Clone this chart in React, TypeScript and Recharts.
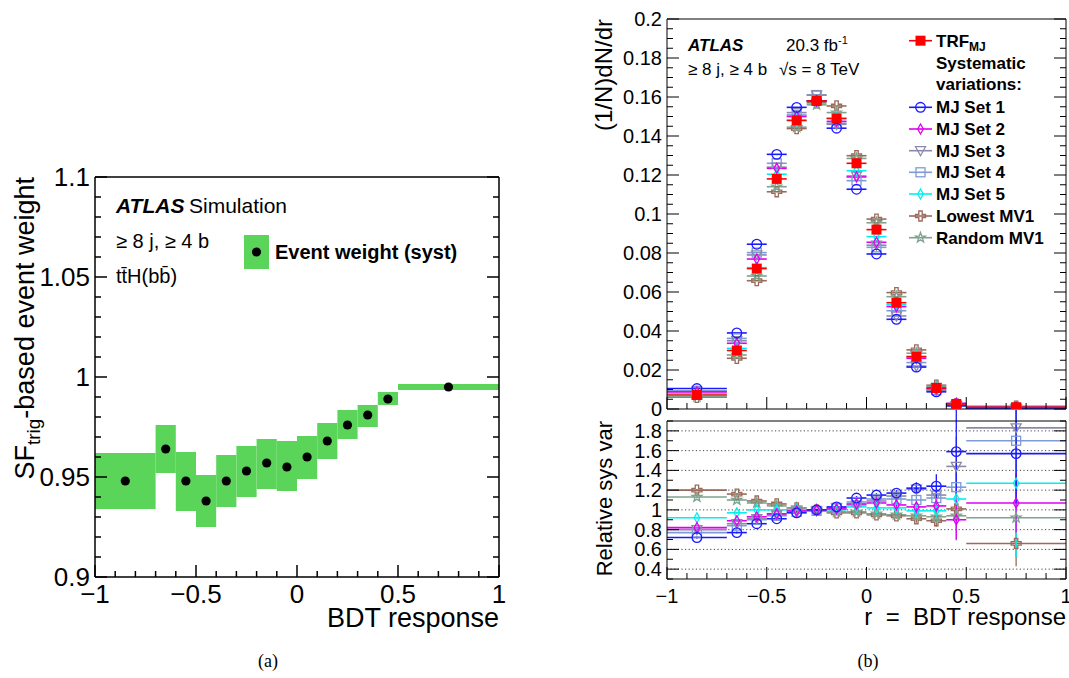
import React from "react";
import { ComposedChart, Scatter, XAxis, YAxis, ErrorBar, ReferenceArea, ReferenceLine } from "recharts";

const FONT = "'Liberation Sans', Arial, Helvetica, sans-serif";

// BDT response binning
const binMid = [-0.85, -0.65, -0.55, -0.45, -0.35, -0.25, -0.15, -0.05, 0.05, 0.15, 0.25, 0.35, 0.45, 0.75];
const binHalf = [0.15, 0.05, 0.05, 0.05, 0.05, 0.05, 0.05, 0.05, 0.05, 0.05, 0.05, 0.05, 0.05, 0.25];
const binLow = [-1, -0.7, -0.6, -0.5, -0.4, -0.3, -0.2, -0.1, 0, 0.1, 0.2, 0.3, 0.4, 0.5];
const binHigh = [-0.7, -0.6, -0.5, -0.4, -0.3, -0.2, -0.1, 0, 0.1, 0.2, 0.3, 0.4, 0.5, 1];

// (a) SF_trig based event weight with syst band
const weight = [0.948, 0.964, 0.948, 0.938, 0.948, 0.953, 0.957, 0.955, 0.96, 0.968, 0.976, 0.981, 0.989, 0.995];
const weightLow = [0.934, 0.952, 0.933, 0.925, 0.935, 0.94, 0.944, 0.943, 0.949, 0.959, 0.969, 0.975, 0.986, 0.9935];
const weightHigh = [0.962, 0.976, 0.9625, 0.951, 0.961, 0.9655, 0.969, 0.968, 0.9705, 0.977, 0.9835, 0.986, 0.9925, 0.9965];

// (b) normalised distributions
const trfDist = [0.0072, 0.03, 0.072, 0.118, 0.148, 0.158, 0.149, 0.126, 0.092, 0.0545, 0.0268, 0.0108, 0.0026, 0.0009];
const set1Dist = [0.0105, 0.039, 0.0845, 0.1306, 0.1547, 0.158, 0.144, 0.1127, 0.0795, 0.046, 0.0215, 0.0088, 0.0016, 0.0006];
const set2Dist = [0.0088, 0.0337, 0.0769, 0.1234, 0.15, 0.158, 0.1475, 0.119, 0.0855, 0.0525, 0.026, 0.0104, 0.0029, 0.00084];
const set3Dist = [0.009, 0.035, 0.079, 0.124, 0.152, 0.161, 0.146, 0.1195, 0.084, 0.0477, 0.022, 0.0094, 0.0018, 0.0005];
const set4Dist = [0.0093, 0.0362, 0.0802, 0.126, 0.1508, 0.161, 0.1465, 0.1171, 0.0829, 0.0504, 0.0238, 0.0097, 0.0021, 0.00053];
const set5Dist = [0.0078, 0.0311, 0.0725, 0.1204, 0.148, 0.158, 0.149, 0.1222, 0.0884, 0.0535, 0.027, 0.0109, 0.0023, 0.0007];
const lowestDist = [0.006, 0.026, 0.0658, 0.1114, 0.1438, 0.157, 0.1554, 0.1299, 0.0974, 0.0597, 0.0303, 0.0122, 0.0026, 0.0014];
const randomDist = [0.0063, 0.0277, 0.0682, 0.114, 0.1445, 0.156, 0.152, 0.1285, 0.0955, 0.0576, 0.0286, 0.0117, 0.0028, 0.001];

// relative sys var (ratio panel)
const set1Ratio = [0.72, 0.77, 0.86, 0.91, 0.97, 1.0, 1.03, 1.12, 1.15, 1.17, 1.22, 1.24, 1.59, 1.57];
const set2Ratio = [0.82, 0.89, 0.93, 0.96, 0.99, 1.0, 1.01, 1.06, 1.07, 1.05, 1.03, 1.04, 0.9, 1.07];
const set3Ratio = [0.8, 0.86, 0.91, 0.95, 0.98, 0.99, 1.02, 1.05, 1.09, 1.14, 1.21, 1.15, 1.44, 1.83];
const set4Ratio = [0.77, 0.84, 0.9, 0.94, 0.98, 0.99, 1.02, 1.08, 1.11, 1.11, 1.1, 1.12, 1.23, 1.7];
const set5Ratio = [0.92, 0.97, 1.0, 1.0, 1.0, 1.0, 1.0, 1.03, 1.02, 1.02, 0.99, 0.99, 1.11, 1.27];
const lowestRatio = [1.2, 1.16, 1.09, 1.06, 1.02, 1.0, 0.97, 0.97, 0.95, 0.94, 0.91, 0.89, 1.01, 0.66];
const randomRatio = [1.13, 1.1, 1.07, 1.04, 1.02, 1.0, 0.98, 0.98, 0.96, 0.95, 0.94, 0.93, 0.94, 0.92];

const set1Err = [0.01, 0.01, 0.01, 0.01, 0.01, 0.01, 0.01, 0.02, 0.02, 0.03, 0.06, 0.12, 0.45, 0.5];
const set2Err = [0.01, 0.01, 0.01, 0.01, 0.01, 0.01, 0.01, 0.02, 0.02, 0.03, 0.04, 0.08, 0.2, 0.3];
const set3Err = [0.01, 0.01, 0.01, 0.01, 0.01, 0.01, 0.01, 0.02, 0.02, 0.03, 0.04, 0.08, 0.3, 0.5];
const set4Err = [0.01, 0.01, 0.01, 0.01, 0.01, 0.01, 0.01, 0.02, 0.02, 0.03, 0.04, 0.08, 0.25, 0.5];
const set5Err = [0.01, 0.01, 0.01, 0.01, 0.01, 0.01, 0.01, 0.02, 0.02, 0.03, 0.04, 0.08, 0.3, 0.75];
const lowestErr = [0.01, 0.01, 0.01, 0.01, 0.01, 0.01, 0.01, 0.02, 0.02, 0.03, 0.04, 0.06, 0.1, 0.23];
const randomErr = [0.01, 0.01, 0.01, 0.01, 0.01, 0.01, 0.01, 0.02, 0.02, 0.03, 0.04, 0.06, 0.25, 0.4];

// axis ticks / labels
const xMajor = [-1, -0.5, 0, 0.5, 1];
const xLabels = ["\u22121", "\u22120.5", "0", "0.5", "1"];
const weightMajor = [0.9, 0.95, 1, 1.05, 1.1];
const weightLabels = ["0.9", "0.95", "1", "1.05", "1.1"];
const distMajor = [0, 0.02, 0.04, 0.06, 0.08, 0.1, 0.12, 0.14, 0.16, 0.18, 0.2];
const distLabels = ["0", "0.02", "0.04", "0.06", "0.08", "0.1", "0.12", "0.14", "0.16", "0.18", "0.2"];
const ratioMajor = [0.4, 0.6, 0.8, 1, 1.2, 1.4, 1.6, 1.8];
const ratioLabels = ["0.4", "0.6", "0.8", "1", "1.2", "1.4", "1.6", "1.8"];

function steps(from: number, to: number, step: number) {
  const out: number[] = [];
  for (let v = from; v <= to + 1e-9; v += step) out.push(Number(v.toFixed(4)));
  return out;
}
const xTicks = steps(-1, 1, 0.1);
const weightTicks = steps(0.9, 1.1, 0.01);
const distTicks = steps(0, 0.2, 0.005);
const ratioTicks = steps(0.3, 1.9, 0.1);

type Side = "left" | "right" | "top" | "bottom";

function tickMaker(side: Side, majors: number[], labels: string[] | null, fontSize = 20, gap = 5, sw = 1) {
  return function Tick(props: any) {
    const { x, y, payload } = props;
    const v = Number(payload.value);
    const i = majors.findIndex((m) => Math.abs(m - v) < 1e-6);
    const len = i >= 0 ? 12 : 6;
    const label = i >= 0 && labels ? labels[i] : null;
    const ln = { stroke: "#000", strokeWidth: sw };
    if (side === "bottom") {
      return (
        <g>
          <line x1={x} y1={y} x2={x} y2={y - len} {...ln} />
          {label && (
            <text x={x} y={y + gap} textAnchor="middle" fontSize={fontSize} fontFamily={FONT} fill="#000">
              {label}
            </text>
          )}
        </g>
      );
    }
    if (side === "top") return <line x1={x} y1={y} x2={x} y2={y + len} {...ln} />;
    if (side === "left") {
      return (
        <g>
          <line x1={x} y1={y} x2={x + len} y2={y} {...ln} />
          {label && (
            <text x={x - gap} y={y} textAnchor="end" dominantBaseline="central" fontSize={fontSize} fontFamily={FONT} fill="#000">
              {label}
            </text>
          )}
        </g>
      );
    }
    return <line x1={x} y1={y} x2={x - len} y2={y} {...ln} />;
  };
}

function Marker({ kind, cx, cy, color }: { kind: string; cx: number; cy: number; color: string }) {
  const s = { fill: "none", stroke: color, strokeWidth: 1.3 };
  if (kind === "fsquare") return <rect x={cx - 5} y={cy - 5} width={10} height={10} fill={color} />;
  if (kind === "circle") return <circle cx={cx} cy={cy} r={4.8} {...s} />;
  if (kind === "square") return <rect x={cx - 4.5} y={cy - 4.5} width={9} height={9} {...s} />;
  if (kind === "tridown") return <polygon points={`${cx - 5},${cy - 4} ${cx + 5},${cy - 4} ${cx},${cy + 5}`} {...s} />;
  if (kind === "diamond") return <polygon points={`${cx},${cy - 5} ${cx + 2.8},${cy} ${cx},${cy + 5} ${cx - 2.8},${cy}`} {...s} />;
  if (kind === "cross") {
    const a = 1.7;
    const L = 5;
    const pts = [[-a, -L], [a, -L], [a, -a], [L, -a], [L, a], [a, a], [a, L], [-a, L], [-a, a], [-L, a], [-L, -a], [-a, -a]];
    return <polygon points={pts.map(([px, py]) => `${cx + px},${cy + py}`).join(" ")} {...s} />;
  }
  const star: string[] = [];
  for (let k = 0; k < 10; k++) {
    const ang = (-90 + k * 36) * (Math.PI / 180);
    const r = k % 2 ? 2.1 : 5.2;
    star.push(`${cx + r * Math.cos(ang)},${cy + r * Math.sin(ang)}`);
  }
  return <polygon points={star.join(" ")} {...s} />;
}

const variations = [
  { label: "MJ Set 1", color: "#1a1aff", kind: "circle", dist: set1Dist, ratio: set1Ratio, err: set1Err },
  { label: "MJ Set 2", color: "#e000f0", kind: "diamond", dist: set2Dist, ratio: set2Ratio, err: set2Err },
  { label: "MJ Set 3", color: "#8a8aa8", kind: "tridown", dist: set3Dist, ratio: set3Ratio, err: set3Err },
  { label: "MJ Set 4", color: "#7d9bd8", kind: "square", dist: set4Dist, ratio: set4Ratio, err: set4Err },
  { label: "MJ Set 5", color: "#00f0f0", kind: "diamond", dist: set5Dist, ratio: set5Ratio, err: set5Err },
  { label: "Lowest MV1", color: "#9a6a5a", kind: "cross", dist: lowestDist, ratio: lowestRatio, err: lowestErr },
  { label: "Random MV1", color: "#7fa38f", kind: "star", dist: randomDist, ratio: randomRatio, err: randomErr },
];
const drawOrder = [5, 6, 4, 3, 2, 1, 0];

// recharts skips axes of zero size, so every frame axis is 1px thick and the margins are 1px smaller
const axisBase = { type: "number" as const, tickLine: false, tickSize: 0, tickMargin: 0, interval: 0 as const, allowDataOverflow: true };

function frameAxes({ xTicksArr, yTicksArr, yDomain, yMajor, yLabels, xLabelsOn, sw, fontY, fontX, xGap }: any) {
  const axisLine = { stroke: "#000", strokeWidth: sw };
  return [
    <XAxis key="xb" dataKey="x" {...axisBase} domain={[-1, 1]} ticks={xTicksArr} height={1} axisLine={axisLine} tick={tickMaker("bottom", xMajor, xLabelsOn ? xLabels : null, fontX, xGap, sw)} />,
    <XAxis key="xt" xAxisId="top" orientation="top" {...axisBase} domain={[-1, 1]} ticks={xTicksArr} height={1} axisLine={axisLine} tick={tickMaker("top", xMajor, null, fontX, 0, sw)} />,
    <YAxis key="yl" dataKey="y" {...axisBase} domain={yDomain} ticks={yTicksArr} width={1} axisLine={axisLine} tick={tickMaker("left", yMajor, yLabels, fontY, 5, sw)} />,
    <YAxis key="yr" yAxisId="right" orientation="right" {...axisBase} domain={yDomain} ticks={yTicksArr} width={1} axisLine={axisLine} tick={tickMaker("right", yMajor, null, fontY, 0, sw)} />,
  ];
}

function WeightPanel() {
  const pts = binMid.map((x, i) => ({ x, y: weight[i] }));
  return (
    <ComposedChart width={530} height={640} margin={{ top: 176, right: 30, bottom: 62, left: 94 }}>
      {frameAxes({ xTicksArr: xTicks, yTicksArr: weightTicks, yDomain: [0.9, 1.1], yMajor: weightMajor, yLabels: weightLabels, xLabelsOn: true, sw: 1.5, fontY: 26, fontX: 26, xGap: 26 })}
      {binLow.map((lo, i) => (
        <ReferenceArea key={i} x1={lo} x2={binHigh[i]} y1={weightLow[i]} y2={weightHigh[i]} fill="#5ad55a" fillOpacity={1} stroke="none" ifOverflow="visible" />
      ))}
      <Scatter data={pts} dataKey="y" isAnimationActive={false} shape={(p: any) => <circle cx={p.cx} cy={p.cy} r={4.6} fill="#000" />} />
    </ComposedChart>
  );
}

function DistPanel() {
  return (
    <ComposedChart width={509} height={420} margin={{ top: 18, right: 2, bottom: 10, left: 106 }}>
      {frameAxes({ xTicksArr: xTicks, yTicksArr: distTicks, yDomain: [0, 0.2], yMajor: distMajor, yLabels: distLabels, xLabelsOn: false, sw: 1, fontY: 20, fontX: 20, xGap: 0 })}
      {drawOrder.map((k) => {
        const s = variations[k];
        const data = binMid.map((x, i) => ({ x, y: s.dist[i], xe: binHalf[i] }));
        return (
          <Scatter key={s.label} data={data} dataKey="y" isAnimationActive={false} shape={(p: any) => <Marker kind={s.kind} cx={p.cx} cy={p.cy} color={s.color} />}>
            <ErrorBar dataKey="xe" direction="x" width={0} stroke={s.color} strokeWidth={1.6} isAnimationActive={false} />
          </Scatter>
        );
      })}
      <Scatter data={binMid.map((x, i) => ({ x, y: trfDist[i], xe: binHalf[i] }))} dataKey="y" isAnimationActive={false} shape={(p: any) => <Marker kind="fsquare" cx={p.cx} cy={p.cy} color="#ff0000" />}>
        <ErrorBar dataKey="xe" direction="x" width={0} stroke="#ff0000" strokeWidth={1.6} isAnimationActive={false} />
      </Scatter>
    </ComposedChart>
  );
}

function RatioPanel() {
  return (
    <ComposedChart width={509} height={240} margin={{ top: 10, right: 2, bottom: 70, left: 106 }}>
      {frameAxes({ xTicksArr: xTicks, yTicksArr: ratioTicks, yDomain: [0.3, 1.9], yMajor: ratioMajor, yLabels: ratioLabels, xLabelsOn: true, sw: 1, fontY: 20, fontX: 20, xGap: 24 })}
      {ratioMajor.map((v) => (
        <ReferenceLine key={v} y={v} stroke="#444" strokeDasharray="1.2 2.4" strokeWidth={1} />
      ))}
      {drawOrder.map((k) => {
        const s = variations[k];
        const data = binMid.map((x, i) => ({ x, y: s.ratio[i], xe: binHalf[i], ye: s.err[i] }));
        return (
          <Scatter key={s.label} data={data} dataKey="y" isAnimationActive={false} shape={(p: any) => <Marker kind={s.kind} cx={p.cx} cy={p.cy} color={s.color} />}>
            <ErrorBar dataKey="xe" direction="x" width={0} stroke={s.color} strokeWidth={1.6} isAnimationActive={false} />
            <ErrorBar dataKey="ye" direction="y" width={0} stroke={s.color} strokeWidth={1.3} isAnimationActive={false} />
          </Scatter>
        );
      })}
    </ComposedChart>
  );
}

function Overlay() {
  const legendRows = [107.3, 129, 150.7, 172.3, 194, 216, 237.7];
  const t = { fontFamily: FONT, fill: "#000" };
  return (
    <svg width={1069} height={678} style={{ position: "absolute", left: 0, top: 0, pointerEvents: "none" }}>
      {/* (a) */}
      <text x={116} y={213} fontSize={21} fontWeight="bold" fontStyle="italic" {...t}>ATLAS</text>
      <text x={189} y={213} fontSize={21} {...t}>Simulation</text>
      <text x={116} y={248} fontSize={20} {...t}>{"\u2265 8 j, \u2265 4 b"}</text>
      <text x={116} y={283} fontSize={20} {...t}>{"tt\u0304H(bb\u0304)"}</text>
      <rect x={244} y={235} width={25} height={34} fill="#5ad55a" />
      <circle cx={256.5} cy={252} r={4.6} fill="#000" />
      <text x={275} y={259} fontSize={20} fontWeight="bold" {...t}>Event weight (syst)</text>
      <text transform="rotate(-90)" x={-177} y={34} textAnchor="end" fontSize={27} {...t}>
        SF<tspan fontSize={19} dy={6}>trig</tspan>
        <tspan dy={-6}>-based event weight</tspan>
      </text>
      <text x={499} y={627} textAnchor="end" fontSize={27} {...t}>BDT response</text>
      <text x={268} y={667} textAnchor="middle" fontSize={18} fontFamily="'Liberation Serif', 'DejaVu Serif', serif">(a)</text>

      {/* (b) */}
      <text x={688} y={51} fontSize={17} fontWeight="bold" fontStyle="italic" {...t}>ATLAS</text>
      <text x={786} y={51} fontSize={17} {...t}>
        20.3 fb<tspan fontSize={11} dy={-7}>-1</tspan>
      </text>
      <text x={688} y={75} fontSize={17} {...t}>{"\u2265 8 j, \u2265 4 b"}</text>
      <text x={779} y={75} fontSize={17} {...t}>{"\u221As = 8 TeV"}</text>
      <text transform="rotate(-90)" x={-19} y={612} textAnchor="end" fontSize={24} {...t}>(1/N)dN/dr</text>
      <text transform="rotate(-90)" x={-421} y={612} textAnchor="end" fontSize={22} {...t}>Relative sys var</text>
      <text x={1066} y={625} textAnchor="end" fontSize={24} style={{ whiteSpace: "pre" }} {...t}>{"r  =  BDT response"}</text>
      <text x={868} y={667} textAnchor="middle" fontSize={18} fontFamily="'Liberation Serif', 'DejaVu Serif', serif">(b)</text>

      <line x1={909} y1={40.7} x2={932} y2={40.7} stroke="#ff0000" strokeWidth={1.6} />
      <Marker kind="fsquare" cx={920.5} cy={40.7} color="#ff0000" />
      <text x={936} y={47} fontSize={17} fontWeight="bold" {...t}>
        TRF<tspan fontSize={12} dy={4}>MJ</tspan>
      </text>
      <text x={936} y={69} fontSize={17} fontWeight="bold" {...t}>Systematic</text>
      <text x={936} y={90} fontSize={17} fontWeight="bold" {...t}>variations:</text>
      {variations.map((s, i) => (
        <g key={s.label}>
          <line x1={909} y1={legendRows[i]} x2={932} y2={legendRows[i]} stroke={s.color} strokeWidth={1.6} />
          <Marker kind={s.kind} cx={920.5} cy={legendRows[i]} color={s.color} />
          <text x={936} y={legendRows[i] + 6} fontSize={17} fontWeight="bold" {...t}>{s.label}</text>
        </g>
      ))}
    </svg>
  );
}

export default function App() {
  return (
    <div style={{ position: "absolute", left: 0, top: 0, width: 1069, height: 678, background: "#fff", fontFamily: FONT }}>
      <div style={{ position: "absolute", left: 0, top: 0 }}>
        <WeightPanel />
      </div>
      <div style={{ position: "absolute", left: 560, top: 0 }}>
        <DistPanel />
      </div>
      <div style={{ position: "absolute", left: 560, top: 410 }}>
        <RatioPanel />
      </div>
      <Overlay />
    </div>
  );
}
